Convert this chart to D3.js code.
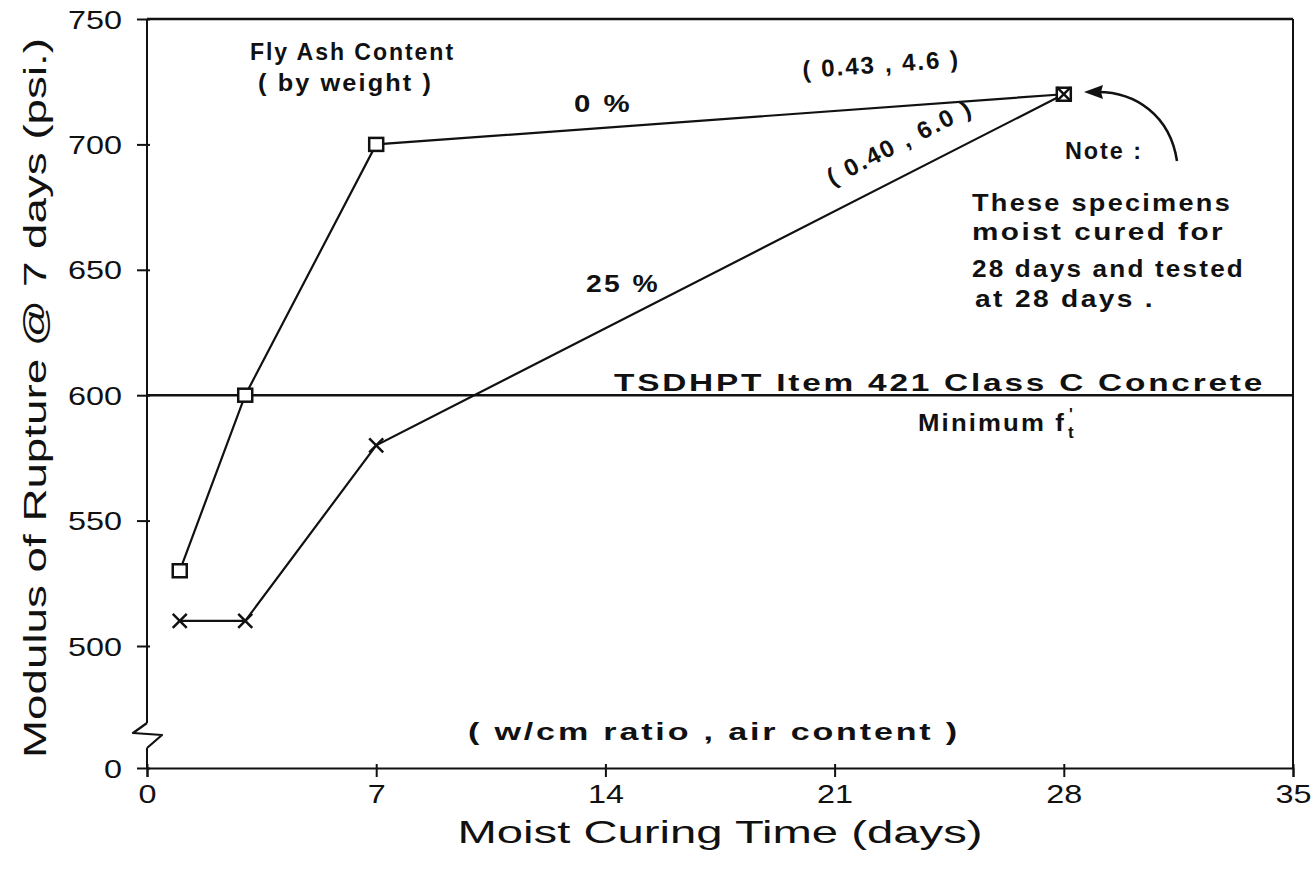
<!DOCTYPE html>
<html>
<head>
<meta charset="utf-8">
<script src="https://cdn.jsdelivr.net/npm/d3@7"></script>
<style>
  html, body { margin: 0; padding: 0; background: #fff; }
  svg { display: block; }
  .tick text { font-family: "Liberation Sans", "DejaVu Sans", sans-serif; font-weight: normal; font-size: 25px; fill: #111; }
  .note { font-family: "Liberation Sans", Arial, sans-serif; font-weight: bold; font-size: 24px; letter-spacing: 2px; fill: #111; }
  .title { font-family: "Liberation Sans", "DejaVu Sans", sans-serif; font-weight: normal; font-size: 32px; fill: #111; }
</style>
</head>
<body>
<svg id="chart" width="1315" height="876"></svg>
<script>
// Moist curing time (days)
const curingDays = [1, 3, 7, 28];
// Modulus of rupture (psi), by fly ash content
const mor0pct  = [530, 600, 700, 720];
const mor25pct = [510, 510, 580, 720];
// Specification minimum
const minimumMor = 600;
// Axis ticks
const xTicks = [0, 7, 14, 21, 28, 35];
const yTicks = [0, 500, 550, 600, 650, 700, 750];

const svg = d3.select("#chart");
const ink = "#111";

const x = d3.scaleLinear().domain([0, 35]).range([147, 1293]);
// broken axis: 0 sits just below the 500–750 band
const y = d3.scaleLinear().domain([0, 500, 750]).range([768, 646, 19]);

// wide plotter-style digits
const widenDigits = sel => sel.selectAll(".tick text")
  .attr("textLength", d => String(d).length * 18)
  .attr("lengthAdjust", "spacingAndGlyphs");

// frame: top and right
svg.append("line").attr("x1", x(0)).attr("x2", x(35)).attr("y1", y(750)).attr("y2", y(750))
  .attr("stroke", ink).attr("stroke-width", 2.5);
svg.append("line").attr("x1", x(35)).attr("x2", x(35)).attr("y1", y(750)).attr("y2", y(0))
  .attr("stroke", ink).attr("stroke-width", 2);

// bottom axis
const xAxis = svg.append("g").attr("transform", `translate(0,${y(0)})`)
  .call(d3.axisBottom(x).tickValues(xTicks).tickSize(9).tickPadding(8).tickFormat(d3.format("d")));
xAxis.select(".domain").attr("stroke", ink).attr("stroke-width", 2);
xAxis.selectAll(".tick line").attr("stroke", ink).attr("stroke-width", 2).attr("y1", -4);
widenDigits(xAxis);

// left axis (domain drawn separately to show the break)
const yAxis = svg.append("g").attr("transform", `translate(${x(0)},0)`)
  .call(d3.axisLeft(y).tickValues(yTicks).tickSize(10).tickPadding(15).tickFormat(d3.format("d")));
yAxis.select(".domain").remove();
yAxis.selectAll(".tick line").attr("stroke", ink).attr("stroke-width", 2).attr("x1", 3);
yAxis.selectAll(".tick text").attr("dy", "0.36em");
widenDigits(yAxis);

svg.append("line").attr("x1", x(0)).attr("x2", x(0)).attr("y1", y(750)).attr("y2", 723)
  .attr("stroke", ink).attr("stroke-width", 2);
svg.append("line").attr("x1", x(0)).attr("x2", x(0)).attr("y1", 748).attr("y2", y(0))
  .attr("stroke", ink).attr("stroke-width", 2);
svg.append("path").attr("d", `M${x(0)},723 L133,733 L162,735 L${x(0)},748`)
  .attr("fill", "none").attr("stroke", ink).attr("stroke-width", 2.2).attr("stroke-linejoin", "round");

// specification line
svg.append("line").attr("x1", x(0)).attr("x2", x(35)).attr("y1", y(minimumMor)).attr("y2", y(minimumMor))
  .attr("stroke", ink).attr("stroke-width", 2.5);

// series
const line = d3.line().x(d => x(d[0])).y(d => y(d[1]));
const s0 = curingDays.map((d, i) => [d, mor0pct[i]]);
const s25 = curingDays.map((d, i) => [d, mor25pct[i]]);

svg.append("path").datum(s0).attr("d", line).attr("fill", "none").attr("stroke", ink).attr("stroke-width", 2.2);
svg.append("path").datum(s25).attr("d", line).attr("fill", "none").attr("stroke", ink).attr("stroke-width", 2.2);

// square markers (0 %)
svg.append("g").selectAll("rect").data(s0).join("rect")
  .attr("x", d => x(d[0]) - 7).attr("y", d => y(d[1]) - 6.5)
  .attr("width", 14).attr("height", 13)
  .attr("fill", "#fff").attr("stroke", ink).attr("stroke-width", 2.5);

// cross markers (25 %)
const cr = 7;
svg.append("g").selectAll("path").data(s25).join("path")
  .attr("d", d => {
    const cx = x(d[0]), cy = y(d[1]);
    return `M${cx - cr},${cy - cr}L${cx + cr},${cy + cr}M${cx - cr},${cy + cr}L${cx + cr},${cy - cr}`;
  })
  .attr("stroke", ink).attr("stroke-width", 2.5).attr("fill", "none");

// axis titles
svg.append("text").attr("class", "title").attr("x", 720).attr("y", 843)
  .attr("text-anchor", "middle").attr("textLength", 525).attr("lengthAdjust", "spacingAndGlyphs")
  .text("Moist Curing Time (days)");
svg.append("text").attr("class", "title")
  .attr("transform", "translate(46,398) rotate(-90)")
  .attr("text-anchor", "middle").attr("textLength", 720).attr("lengthAdjust", "spacingAndGlyphs")
  .text("Modulus of Rupture @ 7 days (psi.)");

// annotations
function note(txt, px, py, len, rot) {
  const t = svg.append("text").attr("class", "note").attr("x", px).attr("y", py).text(txt);
  if (len) t.attr("textLength", len).attr("lengthAdjust", "spacingAndGlyphs");
  if (rot) t.attr("transform", `rotate(${rot},${px},${py})`);
  return t;
}
note("Fly Ash Content", 250, 60, 205);
note("( by weight )", 258, 91, 175);
note("0 %", 574, 112, 58);
note("25 %", 586, 292, 74);
note("( 0.43 , 4.6 )", 803, 78, 158, -4);
note("( 0.40 , 6.0 )", 832, 186, 160, -27);
note("Note :", 1065, 159, 78);
note("These  specimens", 972, 211, 260);
note("moist  cured  for", 972, 240, 253);
note("28 days  and tested", 972, 277, 273);
note("at  28  days .", 975, 307, 180);
note("TSDHPT   Item  421   Class  C   Concrete", 614, 391, 651);
note("Minimum  f", 918, 431, 148);
svg.append("text").attr("class", "note").attr("x", 1069).attr("y", 420).style("font-size", "16px").text("'");
svg.append("text").attr("class", "note").attr("x", 1068).attr("y", 438).style("font-size", "17px").text("t");
note("( w/cm  ratio ,  air  content )", 468, 740, 492);

// curved pointer to the 28-day specimens
svg.append("path").attr("d", "M1177,161 C1170,115 1135,92 1098,92")
  .attr("fill", "none").attr("stroke", ink).attr("stroke-width", 2.5);
svg.append("path").attr("d", "M1084,92 L1103,85 L1101,92 L1103,99 Z").attr("fill", ink);
</script>
</body>
</html>
